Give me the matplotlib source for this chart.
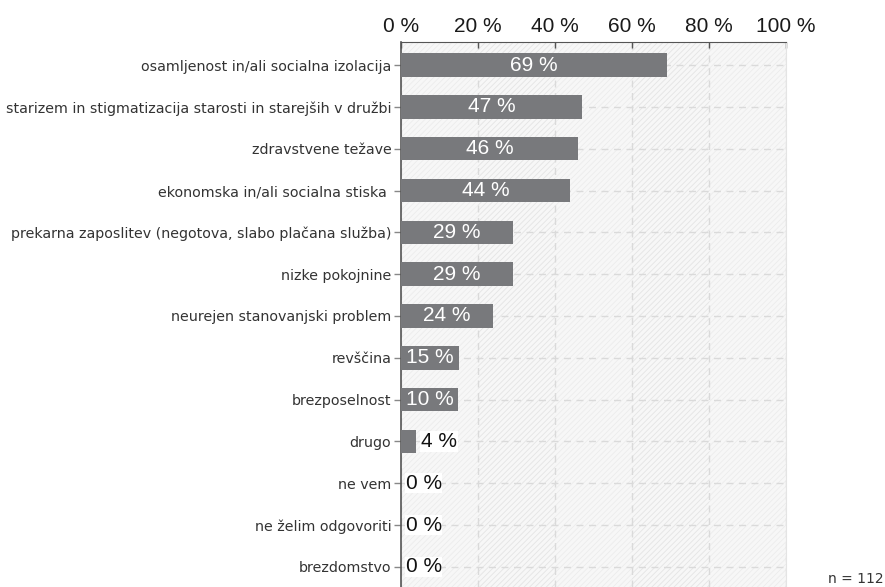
import matplotlib
matplotlib.use('Agg')
import matplotlib.pyplot as plt

plt.rcParams['hatch.linewidth'] = 0.6

categories = [
    'osamljenost in/ali socialna izolacija',
    'starizem in stigmatizacija starosti in starejših v družbi',
    'zdravstvene težave',
    'ekonomska in/ali socialna stiska ',
    'prekarna zaposlitev (negotova, slabo plačana služba)',
    'nizke pokojnine',
    'neurejen stanovanjski problem',
    'revščina',
    'brezposelnost',
    'drugo',
    'ne vem',
    'ne želim odgovoriti',
    'brezdomstvo',
]
values = [69, 47, 46, 44, 29, 29, 24, 15, 10, 4, 0, 0, 0]
xticks = [0, 20, 40, 60, 80, 100]
n_total = 112

bar_color = '#78797c'
min_inside = 14.7  # bars with a white label are at least this wide

fig = plt.figure(figsize=(8.85, 5.87), dpi=100)
ax = fig.add_axes([0.4531, 0.0, 0.4350, 0.9284])

y = list(range(len(categories)))
ax.set_xlim(0, 100)
ax.set_ylim(len(categories) - 0.52, -0.55)

# background: light grey with faint diagonal hatch, alternate columns a bit stronger
ax.set_facecolor('#f7f7f7')
for i in range(len(xticks) - 1):
    ec = '#e4e4e4' if i % 2 else '#ececec'
    ax.axvspan(xticks[i], xticks[i + 1], facecolor='none', edgecolor=ec,
               hatch='//////', lw=0, zorder=0)

ax.grid(True, color='#dadada', linestyle=(0, (5, 4)), lw=1.0, zorder=1)
ax.set_axisbelow(True)

widths = [max(v, min_inside) if v >= 10 else v for v in values]
ax.barh(y, widths, height=0.56, color=bar_color, zorder=3)

for yi, v, w in zip(y, values, widths):
    lab = f'{v} %'
    if v >= 10:
        ax.text(max(v / 2, 7.5), yi, lab, ha='center', va='center', color='white',
                fontsize=15, family='Liberation Sans', zorder=4)
    else:
        ax.text(w + 1.2, yi, lab, ha='left', va='center', color='#111111',
                fontsize=15, family='Liberation Sans', zorder=4,
                bbox=dict(facecolor='white', edgecolor='none', pad=0.5))

ax.set_yticks(y)
ax.set_yticklabels(categories, fontsize=10.3, family='DejaVu Sans', color='#333333')
ax.tick_params(axis='y', length=5, width=1, color='#888888', pad=2)

ax.xaxis.tick_top()
ax.set_xticks(xticks)
ax.set_xticklabels([f'{t} %' for t in xticks], fontsize=15, family='Liberation Sans',
                   color='#1a1a1a')
ax.tick_params(axis='x', direction='in', length=4, width=1, color='#555555', pad=4)

ax.spines['bottom'].set_visible(False)
ax.spines['top'].set_color('#555555')
ax.spines['left'].set_color('#555555')
ax.spines['left'].set_linewidth(1.2)
ax.spines['right'].set_color('#e4e4e4')

fig.text(0.998, 0.002, f'n = {n_total}', fontsize=10, family='DejaVu Sans',
         color='#333333', ha='right', va='bottom')

fig.savefig('out.png', dpi=100)
